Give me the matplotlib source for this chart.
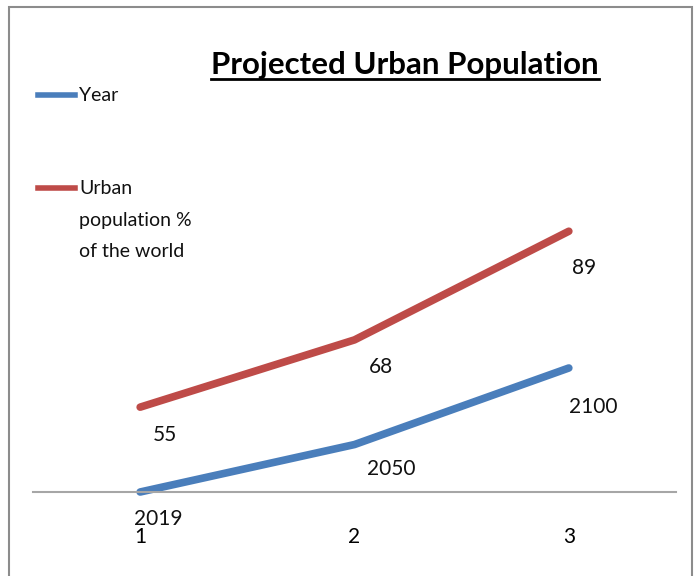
import matplotlib
matplotlib.use("Agg")
import matplotlib.pyplot as plt
from matplotlib.lines import Line2D
from matplotlib.patches import Rectangle

plt.rcParams['font.family'] = ['Lato', 'DejaVu Sans']

# data
categories = [1, 2, 3]
year_values = [2019, 2050, 2100]
urban_values = [55, 68, 89]
series_names = ['Year', 'Urban\npopulation %\nof the world']
title = 'Projected Urban Population'

blue = '#4A7EBB'
red = '#BE4B48'

W, H = 700, 576
fig = plt.figure(figsize=(W / 100, H / 100), dpi=100)

# plot area (pixel coords of the reference turned into figure fractions)
ax = fig.add_axes([33 / W, 1 - 492 / H, (676 - 33) / W, (492 - 120) / H])
ax2 = ax.twinx()

ax.plot(categories, year_values, color=blue, lw=5.5, solid_capstyle='round', clip_on=False)
ax2.plot(categories, urban_values, color=red, lw=5.5, solid_capstyle='round', clip_on=False)

ax.set_xlim(0.5, 3.5)
ax.set_ylim(2019, 2262)
ax2.set_ylim(38.6, 110.5)

# data labels, offsets in pixels
year_offsets = [(18, -27), (37, -24), (24, -39)]
urban_offsets = [(25, -28), (26, -27), (15, -37)]
for x, v, (dx, dy) in zip(categories, year_values, year_offsets):
    ax.annotate(str(v), (x, v), xytext=(dx * 0.72, dy * 0.72), textcoords='offset points',
                ha='center', va='center', fontsize=15, color='#111111')
for x, v, (dx, dy) in zip(categories, urban_values, urban_offsets):
    ax2.annotate(str(v), (x, v), xytext=(dx * 0.72, dy * 0.72), textcoords='offset points',
                 ha='center', va='center', fontsize=15, color='#111111')

ax.set_xticks(categories)
ax.set_xticklabels([str(c) for c in categories], fontsize=15)
ax.tick_params(axis='x', length=0, pad=25)
ax.set_yticks([])
ax2.set_yticks([])
for a in (ax, ax2):
    for s in ('top', 'left', 'right'):
        a.spines[s].set_visible(False)
ax2.spines['bottom'].set_visible(False)
ax.spines['bottom'].set_color('#A6A6A6')
ax.spines['bottom'].set_linewidth(1.5)

# chart border
fig.add_artist(Rectangle((9 / W, -0.02), (692 - 9) / W, 1.02 - 7 / H, transform=fig.transFigure,
                         fill=False, edgecolor='#8C8C8C', lw=1.5, clip_on=False))

# title with underline, sized to the reference width
t = fig.text(405 / W, 1 - 74 / H, title, ha='center', va='baseline',
             fontsize=27, fontweight='bold')
fig.canvas.draw()
w = t.get_window_extent().width
t.set_fontsize(27 * 386 / w)
fig.canvas.draw()
bb = t.get_window_extent().transformed(fig.transFigure.inverted())
fig.add_artist(Line2D([bb.x0, bb.x1], [1 - 79 / H] * 2, transform=fig.transFigure,
                      color='black', lw=2))

# legend
for name, col, y in zip(series_names, [blue, red], [95, 188]):
    fig.add_artist(Line2D([38 / W, 75 / W], [1 - y / H] * 2, transform=fig.transFigure,
                          color=col, lw=4))
    fig.text(79 / W, 1 - (y - 8) / H, name, ha='left', va='top', fontsize=14,
             linespacing=2.05, color='#111111')

fig.savefig('out.png', dpi=100)
